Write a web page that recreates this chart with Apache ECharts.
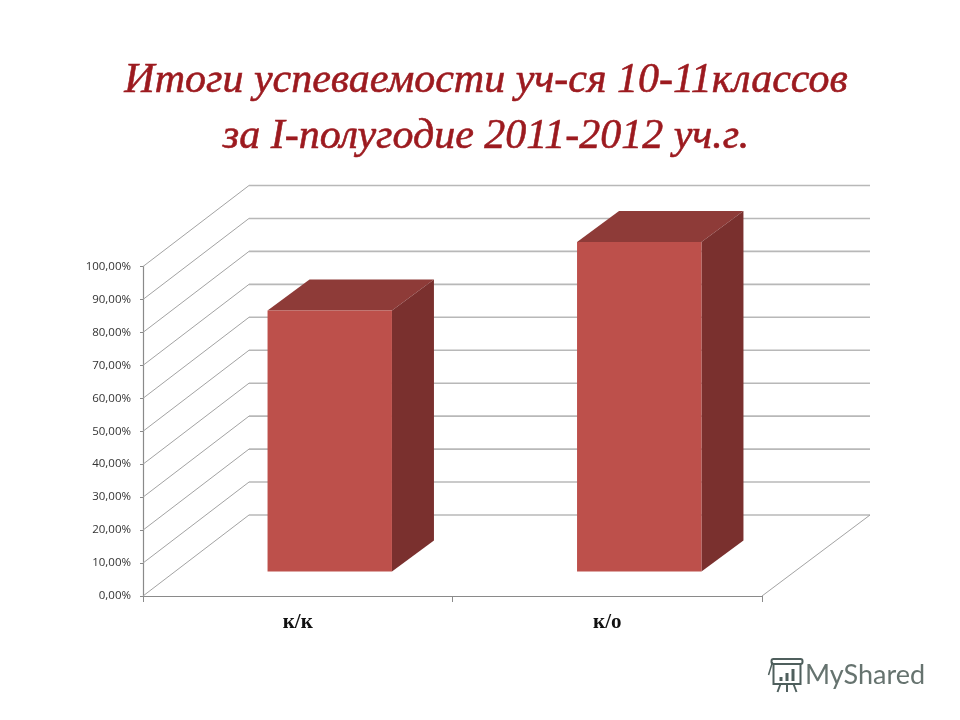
<!DOCTYPE html>
<html><head><meta charset="utf-8">
<style>html,body{margin:0;padding:0;background:#fff}#c{width:960px;height:720px}</style>
<script src="https://cdn.jsdelivr.net/npm/echarts@6/dist/echarts.min.js"></script>
</head><body><div id="c"></div>
<script>
const titleLines = ['Итоги успеваемости уч-ся 10-11классов', 'за I-полугодие 2011-2012 уч.г.'];
const categories = ['к/к', 'к/о'];
const values = [0.792, 1.0];
const wallTicks = [0, 0.1, 0.2, 0.3, 0.4, 0.5, 0.6, 0.7, 0.8, 0.9, 1.0];

const DEPTH_X = 106, DEPTH_Y = 81, BAR_DX = 32, BAR_DY = 24.5, BAR_DEPTH_X = 42, BAR_DEPTH_Y = 31, BAR_W = 0.402;

function renderWall(params, api) {
  const cs = params.coordSys;
  const y = api.coord([0, api.value(0)])[1];
  const x0 = cs.x, x1 = cs.x + cs.width;
  const kids = [
    {type:'line', shape:{x1:x0, y1:y, x2:x0+DEPTH_X, y2:y-DEPTH_Y}, style:{stroke:'#a3a3a3', lineWidth:1}},
    {type:'line', shape:{x1:x0+DEPTH_X, y1:y-DEPTH_Y, x2:x1+DEPTH_X+2, y2:y-DEPTH_Y}, style:{stroke:'#b8b8b8', lineWidth:1.6}}
  ];
  if (api.value(0) === 0) {
    kids.push({type:'line', shape:{x1:x1, y1:y, x2:x1+DEPTH_X+2, y2:y-DEPTH_Y}, style:{stroke:'#a3a3a3', lineWidth:1}});
  }
  return {type:'group', children:kids};
}
function renderBar(params, api) {
  const top = api.coord([api.value(0), api.value(1)]);
  const base = api.coord([api.value(0), 0]);
  const w = api.size([1, 0])[0] * BAR_W;
  const l = top[0] + BAR_DX - w/2, r = l + w;
  const t = top[1] - BAR_DY, b = base[1] - BAR_DY;
  const dx = BAR_DEPTH_X, dy = BAR_DEPTH_Y;
  return {type:'group', children:[
    {type:'polygon', shape:{points:[[l,t],[r,t],[r+dx,t-dy],[l+dx,t-dy]]}, style:{fill:'#8e3b38'}},
    {type:'polygon', shape:{points:[[r,t],[r+dx,t-dy],[r+dx,b-dy],[r,b]]}, style:{fill:'#7a302e'}},
    {type:'rect', shape:{x:l, y:t, width:w, height:b-t}, style:{fill:'#bd504b'}}
  ]};
}
const chart = echarts.init(document.getElementById('c'), null, {renderer:'canvas'});
chart.setOption({
  backgroundColor:'#ffffff',
  animation:false,
  title:{
    text:titleLines.join('\n'), left:481, top:48, textAlign:'center',
    textStyle:{fontFamily:'"Liberation Serif"', fontStyle:'italic', fontWeight:'normal', fontSize:42, lineHeight:56, color:'#9c1a1f', textBorderColor:'#9c1a1f', textBorderWidth:0.6}
  },
  grid:{left:143, right:198, top:266.5, bottom:124},
  xAxis:{type:'category', data:categories,
    axisLine:{lineStyle:{color:'#8a8a8a', width:1.2}},
    axisTick:{show:true, length:6, lineStyle:{color:'#8a8a8a'}},
    axisLabel:{fontFamily:'"Liberation Serif"', fontWeight:'bold', fontSize:21, color:'#111', margin:16},
    splitLine:{show:false}},
  yAxis:{type:'value', min:0, max:1, interval:0.1,
    axisLine:{show:true, lineStyle:{color:'#8a8a8a', width:1.2}},
    axisTick:{show:true, length:3, lineStyle:{color:'#8a8a8a'}},
    axisLabel:{fontFamily:'"Open Sans"', fontSize:11.5, color:'#333', margin:12,
      formatter:v => (v*100).toFixed(2).replace('.', ',') + '%'},
    splitLine:{show:false}},
  series:[
    {type:'custom', renderItem:renderWall, data:wallTicks.map(v=>[v]), encode:{y:0}, silent:true, z:1, clip:false},
    {type:'custom', renderItem:renderBar, data:values.map((v,i)=>[i,v]), encode:{x:0,y:1}, silent:true, z:2, clip:false}
  ],
  graphic:[
    {type:'text', left:805, top:662, style:{text:'MyShared', fontFamily:'Lato', fontSize:27, fill:'#66736f'}},
    {type:'group', left:766, top:658, children:[
      {type:'rect', shape:{x:5,y:3,width:27,height:22}, style:{fill:'none', stroke:'#4f5f5d', lineWidth:2}},
      {type:'rect', shape:{x:3,y:0,width:31,height:5,r:2}, style:{fill:'#fff', stroke:'#4f5f5d', lineWidth:2}},
      {type:'rect', shape:{x:11,y:18,width:3,height:4}, style:{fill:'#4f5f5d'}},
      {type:'rect', shape:{x:17,y:14,width:3,height:8}, style:{fill:'#4f5f5d'}},
      {type:'rect', shape:{x:23,y:10,width:3,height:12}, style:{fill:'#4f5f5d'}},
      {type:'line', shape:{x1:12,y1:25,x2:9,y2:33}, style:{stroke:'#4f5f5d', lineWidth:2}},
      {type:'line', shape:{x1:18.5,y1:25,x2:18.5,y2:33}, style:{stroke:'#4f5f5d', lineWidth:2}},
      {type:'line', shape:{x1:25,y1:25,x2:28,y2:33}, style:{stroke:'#4f5f5d', lineWidth:2}},
      {type:'line', shape:{x1:4,y1:3,x2:0,y2:16}, style:{stroke:'#4f5f5d', lineWidth:1.5}}
    ]}
  ]
});
</script></body></html>
